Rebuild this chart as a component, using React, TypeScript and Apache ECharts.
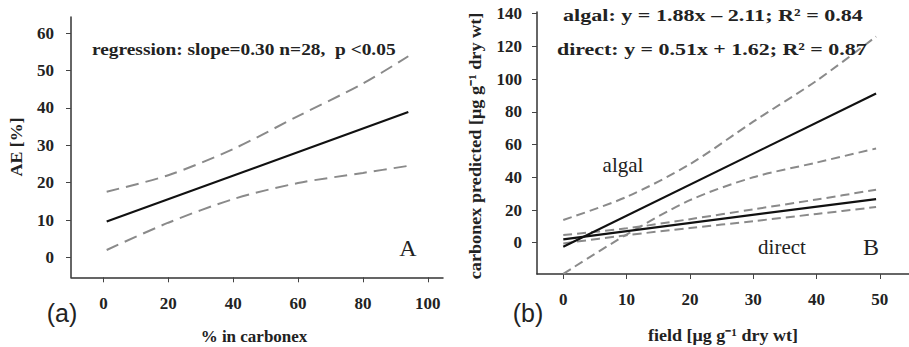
import React, { useEffect, useRef } from "react";
import * as echarts from "echarts";

// ---- Panel (a) data ----
const leftXTicks = [0, 20, 40, 60, 80, 100];
const leftYTicks = [0, 10, 20, 30, 40, 50, 60];
const leftFitX = [1, 94];
const leftFitY = [9.6, 38.9];
const leftBandX = [1, 20, 40, 60, 80, 94];
const leftUpperY = [17.6, 22.0, 29.0, 37.8, 46.5, 53.8];
const leftLowerY = [2.0, 9.3, 15.6, 19.9, 22.6, 24.5];

// ---- Panel (b) data ----
const rightXTicks = [0, 10, 20, 30, 40, 50];
const rightYTicks = [0, 20, 40, 60, 80, 100, 120, 140];
const rightFitX = [0, 49.4];
const algalFitY = [-2.4, 91.2];
const directFitY = [2.1, 26.7];
const rightBandX = [0, 10, 20, 30, 40, 49.4];
const algalUpperY = [13.9, 28, 48, 74, 99, 126];
const algalLowerY = [-19, 5, 26, 40, 49, 57.6];
const directUpperY = [4.7, 8.8, 14.4, 20.4, 26.4, 32.4];
const directLowerY = [-0.4, 4.6, 9.0, 13.2, 17.6, 21.8];

const SERIF = "'Liberation Serif', 'Times New Roman', serif";
const SANS = "'Liberation Sans', Arial, sans-serif";

const zip = (xs: number[], ys: number[]) => xs.map((x, i) => [x, ys[i]]);

const axis = (
  gridIndex: number,
  ticks: number[],
  min: number,
  max: number,
  margin: number
) => ({
  type: "value",
  gridIndex,
  min,
  max,
  axisLine: { show: true, onZero: false, lineStyle: { color: "#333", width: 1.5 } },
  axisTick: { show: true, customValues: ticks, length: 5, lineStyle: { color: "#444", width: 1 } },
  axisLabel: {
    customValues: ticks,
    margin,
    fontFamily: SERIF,
    fontWeight: "bold",
    fontSize: 17,
    color: "#222",
  },
  splitLine: { show: false },
});

const solid = (xi: number, data: number[][]) => ({
  type: "line",
  xAxisIndex: xi,
  yAxisIndex: xi,
  data,
  showSymbol: false,
  lineStyle: { color: "#111", width: 2.2 },
  z: 3,
});

const dashed = (xi: number, data: number[][], dash: number[]) => ({
  type: "line",
  xAxisIndex: xi,
  yAxisIndex: xi,
  data,
  showSymbol: false,
  smooth: 0.3,
  lineStyle: { color: "#8a8a8a", width: 2, type: dash },
  z: 2,
});

const txt = (
  text: string,
  x: number,
  y: number,
  font: string,
  align: string = "left",
  rotation = 0,
  scaleX = 1
) => ({
  type: "text",
  x,
  y,
  rotation,
  scaleX,
  style: { text, font, fill: "#222", align, verticalAlign: "middle" },
  z: 10,
});

export default function App() {
  const ref = useRef<HTMLDivElement>(null);
  useEffect(() => {
    document.body.style.margin = "0";
    const chart = echarts.init(ref.current!, null, { renderer: "svg" });
    chart.setOption({
      animation: false,
      backgroundColor: "#fff",
      grid: [
        { left: 71, top: 17, width: 372, height: 260.3 },
        { left: 537, top: 12, width: 372, height: 262 },
      ],
      xAxis: [
        axis(0, leftXTicks, -10, 104.7, 18),
        axis(1, rightXTicks, -4.15, 54.6, 17),
      ],
      yAxis: [
        axis(0, leftYTicks, -5.3, 64.3, 17),
        axis(1, rightYTicks, -19.1, 141, 15),
      ],
      series: [
        solid(0, zip(leftFitX, leftFitY)),
        dashed(0, zip(leftBandX, leftUpperY), [13, 7]),
        dashed(0, zip(leftBandX, leftLowerY), [13, 7]),
        solid(1, zip(rightFitX, algalFitY)),
        solid(1, zip(rightFitX, directFitY)),
        dashed(1, zip(rightBandX, algalUpperY), [9, 5]),
        dashed(1, zip(rightBandX, algalLowerY), [9, 5]),
        dashed(1, zip(rightBandX, directUpperY), [9, 5]),
        dashed(1, zip(rightBandX, directLowerY), [9, 5]),
      ],
      graphic: [
        txt("regression: slope=0.30 n=28,  p <0.05", 92, 49, `bold 17px ${SERIF}`, "left", 0, 1.14),
        txt("A", 408, 248, `24px ${SERIF}`, "center"),
        txt("(a)", 62, 313, `25px ${SANS}`, "center"),
        txt("% in carbonex", 254, 336, `bold 17px ${SERIF}`, "center"),
        txt("AE [%]", 16, 147, `bold 17px ${SERIF}`, "center", Math.PI / 2, 1.05),
        txt("algal: y = 1.88x – 2.11; R² = 0.84", 563, 15, `bold 17px ${SERIF}`, "left", 0, 1.3),
        txt("direct: y = 0.51x + 1.62; R² = 0.87", 557, 49, `bold 17px ${SERIF}`, "left", 0, 1.29),
        txt("algal", 623, 165, `21px ${SERIF}`, "center"),
        txt("direct", 782, 247, `21px ${SERIF}`, "center"),
        txt("B", 871, 247, `24px ${SERIF}`, "center"),
        txt("(b)", 528, 313, `25px ${SANS}`, "center"),
        txt("field [μg g⁻¹ dry wt]", 723, 335, `bold 17px ${SERIF}`, "center", 0, 1.06),
        txt(
          "carbonex predicted [μg g⁻¹ dry wt]",
          475,
          146,
          `bold 17px ${SERIF}`,
          "center",
          Math.PI / 2,
          1.07
        ),
      ],
    });
    return () => chart.dispose();
  }, []);
  return <div ref={ref} style={{ width: 909, height: 347 }} />;
}
